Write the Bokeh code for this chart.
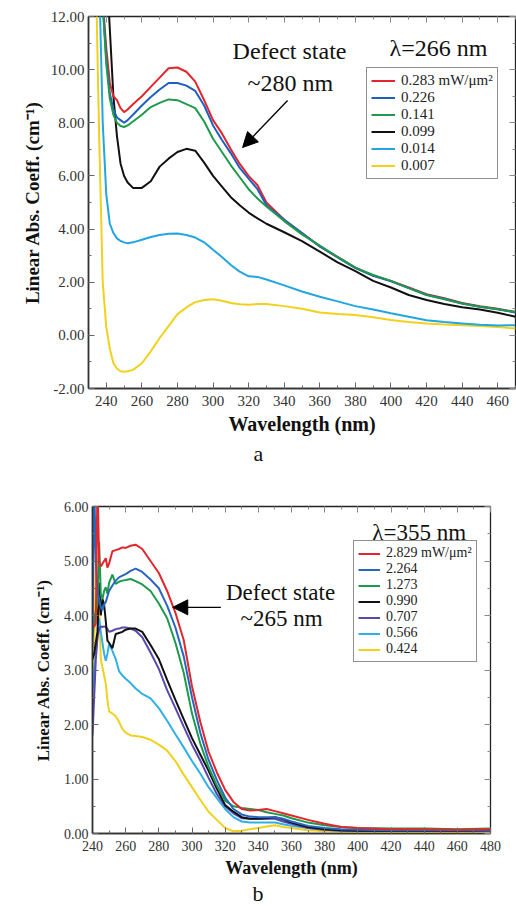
from bokeh.plotting import figure
from bokeh.models import (Range1d, LinearAxis, Legend, LegendItem, Label, Arrow,
                          NormalHead, Title, NumeralTickFormatter, SingleIntervalTicker)
from bokeh.embed import file_html
from bokeh.resources import INLINE

SERIF = "Liberation Serif"

# ---------------- panel a : lambda = 266 nm ----------------
wl_a = [234, 236, 238, 240, 242, 244, 246, 248, 250, 252, 255, 260, 265, 270, 275,
        280, 285, 290, 295, 300, 305, 310, 315, 320, 325, 330, 340, 350, 360, 370,
        380, 390, 400, 410, 420, 430, 440, 450, 460, 470]
a_0283 = [20, 16, 12.6, 10.8, 9.5, 9.0, 8.85, 8.55, 8.4, 8.5, 8.7, 9.0, 9.35, 9.7, 10.05,
          10.08, 9.92, 9.55, 8.85, 8.1, 7.6, 7.0, 6.45, 6.0, 5.65, 5.0, 4.35, 3.85, 3.35, 2.95,
          2.55, 2.25, 2.05, 1.8, 1.55, 1.4, 1.22, 1.1, 1.0, 0.88]
a_0226 = [20, 16, 12.5, 10.4, 9.1, 8.5, 8.2, 8.1, 8.0, 8.1, 8.3, 8.65, 8.97, 9.25, 9.5,
          9.5, 9.4, 9.2, 8.65, 7.9, 7.35, 6.85, 6.3, 5.9, 5.5, 4.9, 4.35, 3.85, 3.35, 2.93,
          2.53, 2.24, 2.03, 1.78, 1.53, 1.38, 1.2, 1.08, 0.98, 0.86]
a_0141 = [20, 16, 12.4, 10.2, 8.9, 8.3, 8.0, 7.88, 7.84, 7.9, 8.05, 8.3, 8.59, 8.75, 8.88,
          8.85, 8.7, 8.55, 8.05, 7.4, 6.9, 6.4, 5.95, 5.5, 5.15, 4.85, 4.3, 3.8, 3.38, 2.95,
          2.55, 2.27, 2.05, 1.78, 1.52, 1.36, 1.2, 1.08, 0.98, 0.88]
a_0099 = [24, 20, 17, 14, 11.5, 9.0, 7.5, 6.47, 6.0, 5.75, 5.55, 5.55, 5.8, 6.35, 6.65,
          6.9, 7.02, 6.95, 6.5, 6.0, 5.6, 5.2, 4.9, 4.62, 4.4, 4.2, 3.88, 3.55, 3.15, 2.75,
          2.42, 2.05, 1.8, 1.52, 1.33, 1.18, 1.06, 0.97, 0.85, 0.7]
a_0014 = [20, 13.5, 8.0, 5.3, 4.2, 3.85, 3.65, 3.55, 3.5, 3.47, 3.5, 3.6, 3.7, 3.78, 3.82,
          3.83, 3.78, 3.68, 3.5, 3.22, 2.95, 2.65, 2.4, 2.22, 2.2, 2.1, 1.88, 1.65, 1.45, 1.28,
          1.1, 0.97, 0.83, 0.7, 0.57, 0.5, 0.45, 0.4, 0.37, 0.38]
a_0007 = [14, 7.5, 2.0, 0.3, -0.5, -1.05, -1.25, -1.35, -1.37, -1.35, -1.3, -1.05, -0.6, -0.1, 0.35,
          0.8, 1.05, 1.25, 1.33, 1.36, 1.3, 1.22, 1.17, 1.15, 1.18, 1.18, 1.1, 1.0, 0.86, 0.8,
          0.77, 0.68, 0.58, 0.5, 0.45, 0.41, 0.38, 0.35, 0.31, 0.26]
labels_a = ["0.283 mW/\u03bcm\u00b2", "0.226", "0.141", "0.099", "0.014", "0.007"]
colors_a = ["#e3262b", "#1f5fc4", "#1d9a4b", "#111111", "#22a6e0", "#f1d11c"]
series_a = [a_0283, a_0226, a_0141, a_0099, a_0014, a_0007]
draw_order_a = [5, 4, 3, 0, 1, 2]

# ---------------- panel b : lambda = 355 nm ----------------
wl_b = [240, 241, 242, 243, 244, 245, 246, 247, 248, 249, 250, 252, 254, 256, 258, 260,
        263, 266, 270, 275, 280, 285, 290, 295, 300, 305, 310, 315, 320, 325, 330, 335,
        340, 345, 350, 355, 360, 370, 380, 390, 400, 420, 440, 460, 480]
b_2829 = [3.8, 3.8, 3.85, 6.5, 5.0, 4.9, 4.95, 5.0, 5.05, 4.88, 4.95, 5.18, 5.2, 5.22, 5.25, 5.24,
          5.28, 5.3, 5.22, 5.0, 4.78, 4.45, 4.05, 3.55, 2.7, 2.05, 1.5, 1.12, 0.8, 0.58, 0.45, 0.42,
          0.43, 0.45, 0.41, 0.37, 0.33, 0.25, 0.18, 0.12, 0.1, 0.08, 0.08, 0.07, 0.08]
b_2264 = [3.4, 6.5, 5.0, 4.45, 4.3, 4.15, 4.1, 4.2, 4.25, 4.35, 4.45, 4.55, 4.64, 4.7, 4.73, 4.76,
          4.82, 4.86, 4.8, 4.66, 4.5, 4.18, 3.78, 3.25, 2.5, 1.85, 1.35, 0.98, 0.66, 0.45, 0.35, 0.31,
          0.3, 0.3, 0.3, 0.27, 0.22, 0.14, 0.1, 0.08, 0.07, 0.06, 0.06, 0.06, 0.07]
b_1273 = [3.6, 3.9, 4.1, 4.2, 5.35, 4.4, 4.3, 4.45, 4.52, 4.4, 4.6, 4.75, 4.58, 4.62, 4.64, 4.65,
          4.67, 4.63, 4.57, 4.45, 4.22, 3.95, 3.5, 2.95, 2.2, 1.65, 1.22, 0.88, 0.6, 0.5, 0.47, 0.45,
          0.43, 0.39, 0.36, 0.33, 0.28, 0.2, 0.15, 0.12, 0.1, 0.09, 0.09, 0.08, 0.09]
b_0990 = [3.2, 3.3, 3.5, 3.7, 4.6, 4.0, 4.3, 4.2, 3.9, 3.54, 3.5, 3.4, 3.66, 3.68, 3.7, 3.74,
          3.76, 3.76, 3.7, 3.46, 3.2, 2.82, 2.45, 2.1, 1.75, 1.45, 1.15, 0.82, 0.52, 0.4, 0.3, 0.27,
          0.27, 0.28, 0.3, 0.26, 0.2, 0.12, 0.08, 0.06, 0.05, 0.05, 0.05, 0.05, 0.06]
b_0707 = [1.8, 2.5, 3.2, 3.6, 3.75, 3.8, 3.79, 3.8, 3.79, 3.75, 3.7, 3.72, 3.75, 3.76, 3.78, 3.78,
          3.76, 3.72, 3.6, 3.32, 3.02, 2.63, 2.3, 1.96, 1.63, 1.34, 1.02, 0.72, 0.5, 0.37, 0.28, 0.27,
          0.27, 0.27, 0.27, 0.22, 0.18, 0.1, 0.07, 0.05, 0.05, 0.05, 0.05, 0.05, 0.05]
b_0566 = [2.6, 3.0, 3.3, 3.6, 3.95, 3.7, 3.5, 3.3, 3.17, 3.3, 3.48, 3.35, 3.2, 2.98, 2.9, 2.84,
          2.76, 2.66, 2.56, 2.48, 2.3, 2.07, 1.82, 1.58, 1.33, 1.1, 0.85, 0.65, 0.45, 0.3, 0.22, 0.2,
          0.2, 0.2, 0.2, 0.17, 0.14, 0.1, 0.07, 0.05, 0.05, 0.05, 0.05, 0.05, 0.05]
b_0424 = [2.7, 3.3, 4.9, 3.9, 4.2, 3.2, 3.05, 2.9, 2.75, 2.45, 2.24, 2.2, 2.15, 2.05, 1.92, 1.85,
          1.8, 1.79, 1.77, 1.72, 1.63, 1.52, 1.33, 1.08, 0.85, 0.62, 0.4, 0.25, 0.1, 0.04, 0.05, 0.08,
          0.1, 0.13, 0.15, 0.12, 0.1, 0.06, 0.04, 0.03, 0.03, 0.03, 0.03, 0.03, 0.04]
labels_b = ["2.829 mW/\u03bcm\u00b2", "2.264", "1.273", "0.990", "0.707", "0.566", "0.424"]
colors_b = ["#e3262b", "#2866c0", "#1d9a4b", "#111111", "#5a48b0", "#2fb0e6", "#f1d11c"]
series_b = [b_2829, b_2264, b_1273, b_0990, b_0707, b_0566, b_0424]
draw_order_b = [6, 5, 4, 3, 2, 1, 0]

# annotation anchor points (data units)
arrow_a = (341.9, 8.84, 316.6, 7.07)
arrow_b = (317.4, 4.15, 288.4, 4.15)


def make_panel(wl, series, labels, colors, order, xr, yr, xstep, ystep, size, borders,
               tick_px, xlab_px, ylab_px, ylab_standoff, leg_loc, leg_font, leg_row, leg_glyph,
               texts, arrow, letter, letter_offset, letter_standoff):
    w, h = size
    p = figure(width=w, height=h, x_range=Range1d(*xr), y_range=Range1d(*yr),
               output_backend="svg", toolbar_location=None, tools="")
    p.min_border_left, p.min_border_right, p.min_border_top, p.min_border_bottom = borders
    p.xgrid.visible = False
    p.ygrid.visible = False
    p.outline_line_color = "#222222"
    p.outline_line_width = 1.3
    p.background_fill_color = "white"
    p.border_fill_color = "white"

    xt = SingleIntervalTicker(interval=xstep, num_minor_ticks=2)
    yt = SingleIntervalTicker(interval=ystep, num_minor_ticks=2)
    p.xaxis.ticker = xt
    p.yaxis.ticker = yt
    p.yaxis.formatter = NumeralTickFormatter(format="0.00")
    p.xaxis.axis_label = "Wavelength (nm)"
    p.yaxis.axis_label = "Linear Abs. Coeff. (cm\u207b\u00b9)"
    for ax in (p.xaxis, p.yaxis):
        ax.axis_line_color = "#333333"
        ax.axis_line_width = 1.6
        ax.major_tick_in = 6
        ax.major_tick_out = 0
        ax.minor_tick_in = 3
        ax.minor_tick_out = 0
        ax.major_tick_line_color = "#666666"
        ax.minor_tick_line_color = "#666666"
        ax.major_label_text_font = SERIF
        ax.major_label_text_font_size = tick_px
        ax.major_label_text_color = "#333333"
        ax.axis_label_text_font = SERIF
        ax.axis_label_text_font_style = "bold"
        ax.axis_label_text_color = "#111111"
    p.xaxis.major_label_standoff = 7
    p.yaxis.major_label_standoff = 4
    p.xaxis.axis_label_text_font_size = xlab_px
    p.yaxis.axis_label_text_font_size = ylab_px
    p.xaxis.axis_label_standoff = 4
    p.yaxis.axis_label_standoff = ylab_standoff

    for loc, tk in (("above", xt), ("right", yt)):
        ax = LinearAxis(ticker=tk, major_label_text_font_size="0px", major_label_standoff=0,
                        major_tick_in=6, major_tick_out=0, minor_tick_in=3, minor_tick_out=0,
                        axis_line_color=None, major_tick_line_color="#888888",
                        minor_tick_line_color="#888888")
        p.add_layout(ax, loc)

    rends = [None] * len(series)
    for i in order:
        rends[i] = p.line(wl, series[i], line_color=colors[i], line_width=2)

    items = [LegendItem(label=labels[i], renderers=[rends[i]]) for i in range(len(series))]
    leg = Legend(items=items, location=leg_loc, border_line_color="#222222",
                 border_line_width=1.3, background_fill_alpha=1.0,
                 label_text_font=SERIF, label_text_font_size=leg_font,
                 label_text_color="#222222", label_text_line_height=1.0,
                 glyph_width=leg_glyph, glyph_height=leg_row, label_height=leg_row,
                 spacing=0, padding=4, label_standoff=6, margin=0)
    p.add_layout(leg)

    for (tx, ty, txt, fs) in texts:
        p.add_layout(Label(x=tx, y=ty, text=txt, text_font=SERIF, text_font_size=fs,
                           text_align="center", text_baseline="middle", text_color="#111111"))
    xs, ys, xe, ye = arrow
    p.add_layout(Arrow(end=NormalHead(size=15, fill_color="black", line_color="black"),
                       x_start=xs, y_start=ys, x_end=xe, y_end=ye,
                       line_color="black", line_width=1.3))
    p.add_layout(Title(text=letter, align="left", offset=letter_offset, standoff=letter_standoff,
                       text_font=SERIF, text_font_size="22px", text_font_style="normal",
                       text_color="#111111"), "below")
    return p


pa = make_panel(wl_a, series_a, labels_a, colors_a, draw_order_a,
                (230, 470), (-2, 12), 20, 2, (516, 470), (88, 1, 16, 82),
                "15px", "20px", "19px", 5, (278, 209), "15px", 17, 24,
                [(343.0, 10.72, "Defect state", "24px"), (343.5, 9.48, "~280 nm", "24px"),
                 (426.7, 10.83, "\u03bb=266 nm", "24px")],
                arrow_a, "a", 165, 2)
pb = make_panel(wl_b, series_b, labels_b, colors_b, draw_order_b,
                (240, 480), (0, 6), 20, 1, (516, 436), (92, 26, 36, 73),
                "14px", "18px", "17px", 8, (261, 171), "14px", 15, 22,
                [(353.4, 4.42, "Defect state", "23px"), (354.0, 3.94, "~265 nm", "23px"),
                 (437.0, 5.52, "\u03bb=355 nm", "23px")],
                arrow_b, "b", 160, -4)

open("out.html", "w").write(file_html([pa, pb], INLINE))
